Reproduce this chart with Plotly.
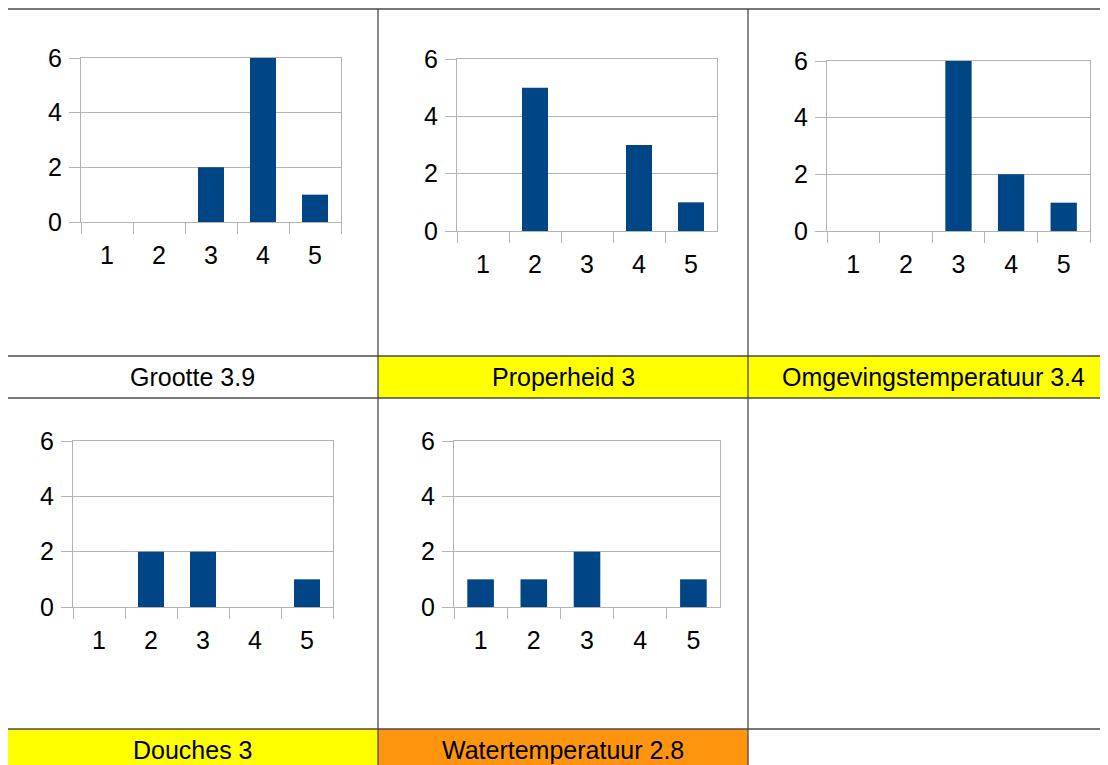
import plotly.graph_objects as go

# page body has an 8px margin; draw figure so it lands on the 1108x765 viewport
OX, OY = 8, 8
W, H = 1108 - OX, 765 - OY

categories = ["1", "2", "3", "4", "5"]
grootte = [0, 0, 2, 6, 1]
properheid = [0, 5, 0, 3, 1]
omgevingstemperatuur = [0, 0, 6, 2, 1]
douches = [0, 2, 2, 0, 1]
watertemperatuur = [1, 1, 2, 0, 1]

labels = ["Grootte 3.9", "Properheid 3", "Omgevingstemperatuur 3.4", "Douches 3", "Watertemperatuur 2.8"]
label_colors = ["#ffffff", "#ffff00", "#ffff00", "#ffff00", "#ff950e"]
series = [grootte, properheid, omgevingstemperatuur, douches, watertemperatuur]
y_ticks = [0, 2, 4, 6]

# plot areas in viewport pixels: (x0, x1, ytop, ybottom)
areas = [
    (81, 341, 58, 222),
    (457, 717, 59, 231),
    (827, 1090, 61, 231),
    (73, 333, 441, 607),
    (454, 720, 441, 607),
]
# label cells: (x0, x1, y0, y1, text center x, text center y)
cells = [
    (7, 378, 356, 398, 192.5, 377),
    (378, 748, 356, 398, 563, 377),
    (748, 1120, 356, 398, 933.5, 377),
    (7, 378, 729, 775, 192.5, 750),
    (378, 748, 729, 775, 563, 750),
]

def px(x):
    return (x - OX) / W

def py(y):
    return 1 - (y - OY) / H

FONT = "Liberation Sans, Arial, sans-serif"
GRID = "#b3b3b3"
BAR = "#004586"
FS = 25

fig = go.Figure()
layout = dict(
    template="none",
    width=W, height=H, margin=dict(l=0, r=0, t=0, b=0, autoexpand=False),
    paper_bgcolor="white", plot_bgcolor="white", showlegend=False,
    font=dict(family=FONT, size=FS, color="black"),
)
shapes = []
annotations = []

for i, (vals, (x0, x1, yt, yb)) in enumerate(zip(series, areas)):
    n = "" if i == 0 else str(i + 1)
    fig.add_trace(go.Bar(x=categories, y=vals, marker=dict(color=BAR, line=dict(width=0)),
                         width=0.5, xaxis="x" + n, yaxis="y" + n, hoverinfo="x+y"))
    layout["xaxis" + n] = dict(
        domain=[px(x0), px(x1)], anchor="y" + n, type="category", automargin=False,
        categoryorder="array", categoryarray=categories,
        tickson="boundaries", ticks="outside", ticklen=11, tickcolor=GRID, tickwidth=1,
        ticklabelstandoff=11,
        showgrid=False, showline=True, linecolor=GRID, linewidth=1, mirror=True, zeroline=False,
        tickfont=dict(family=FONT, size=FS, color="black"), fixedrange=True,
    )
    layout["yaxis" + n] = dict(
        domain=[py(yb), py(yt)], anchor="x" + n, range=[0, 6], automargin=False,
        tickvals=y_ticks, ticks="outside", ticklen=11, tickcolor=GRID, tickwidth=1,
        ticklabelstandoff=2,
        showgrid=True, gridcolor=GRID, gridwidth=1, zeroline=False,
        showline=True, linecolor=GRID, linewidth=1, mirror=True,
        tickfont=dict(family=FONT, size=FS, color="black"), fixedrange=True,
    )

for (x0, x1, y0, y1, tx, ty), text, col in zip(cells, labels, label_colors):
    shapes.append(dict(type="rect", xref="paper", yref="paper", x0=px(x0), x1=px(x1),
                       y0=py(y1), y1=py(y0), fillcolor=col, line=dict(width=0), layer="below"))
    annotations.append(dict(text=text, xref="paper", yref="paper", x=px(tx), y=py(ty),
                            xanchor="center", yanchor="middle", showarrow=False,
                            font=dict(family=FONT, size=FS, color="black")))

LINE = "#4a4a4a"
for y in [9, 356, 398, 729]:
    shapes.append(dict(type="line", xref="paper", yref="paper", x0=px(7), x1=1.02,
                       y0=py(y), y1=py(y), line=dict(color=LINE, width=1.3)))
for x in [7, 378, 748]:
    shapes.append(dict(type="line", xref="paper", yref="paper", x0=px(x), x1=px(x),
                       y0=py(9), y1=-0.03, line=dict(color=LINE, width=1.3)))

layout["shapes"] = shapes
layout["annotations"] = annotations
fig.update_layout(**layout)
fig.write_html("out.html")
